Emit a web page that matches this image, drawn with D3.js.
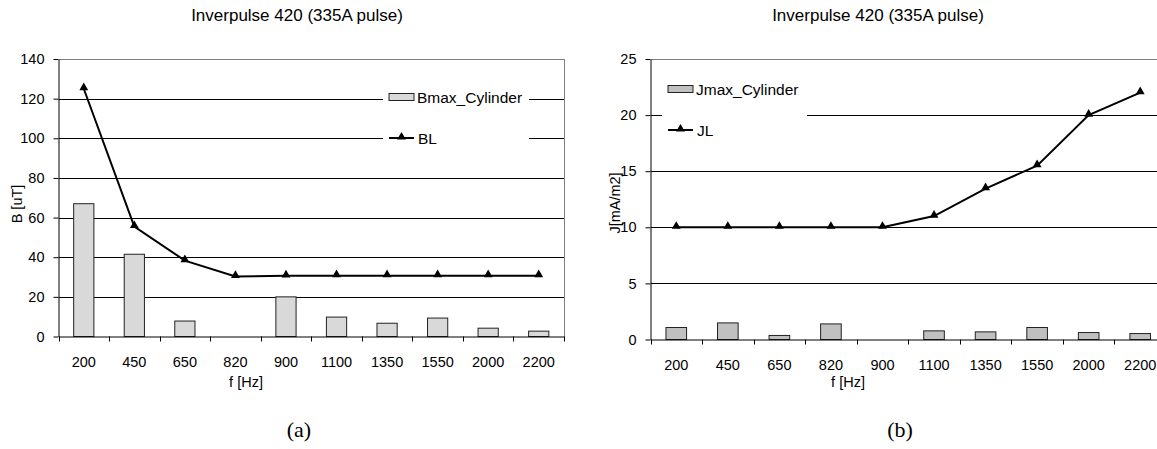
<!DOCTYPE html>
<html>
<head>
<meta charset="utf-8">
<script src="https://cdn.jsdelivr.net/npm/d3@7"></script>
<style>
  body { margin: 0; background: #fff; }
  svg { display: block; font-family: "Liberation Sans", Arial, sans-serif; }
  .tick text { font-size: 14.5px; fill: #000; }
  .grid-line { stroke: #000; stroke-width: 1; shape-rendering: crispEdges; }
  .frame { fill: none; stroke: #808080; stroke-width: 1; shape-rendering: crispEdges; }
  .series-line { fill: none; stroke: #000; stroke-width: 2; }
  .caption { font-family: "Liberation Serif", "Times New Roman", serif; font-size: 22px; }
</style>
</head>
<body>
<svg id="chart" width="1157" height="449"></svg>
<script>
// ---- data ----
const freqLabels = ["200", "450", "650", "820", "900", "1100", "1350", "1550", "2000", "2200"];

// chart (a)
const bmaxCylinder = [67, 41.5, 7.8, 0, 20, 9.8, 6.7, 9.3, 4.2, 2.7];
const bL = [125, 55.5, 38.3, 30.3, 30.6, 30.7, 30.7, 30.7, 30.7, 30.7];
const bTicks = [0, 20, 40, 60, 80, 100, 120, 140];

// chart (b)
const jmaxCylinder = [1.07, 1.48, 0.36, 1.39, 0, 0.77, 0.68, 1.07, 0.62, 0.53];
const jL = [10, 10, 10, 10, 10, 11, 13.45, 15.5, 20, 22];
const jTicks = [0, 5, 10, 15, 20, 25];

const svg = d3.select("#chart");

function drawPanel(cfg) {
    const g = svg.append("g");
    const x = d3.scaleBand().domain(freqLabels).range([cfg.left, cfg.right]);
    const y = d3.scaleLinear().domain([0, cfg.yMax]).range([cfg.bottom, cfg.top]);

    // Title
    g.append("text")
        .attr("x", cfg.titleX)
        .attr("y", 21)
        .attr("text-anchor", "middle")
        .attr("font-size", 17)
        .text("Inverpulse 420 (335A pulse)");

    // Grid lines
    cfg.ticks.filter(t => t > 0).forEach(t => {
        g.append("line")
            .attr("class", "grid-line")
            .attr("x1", cfg.left)
            .attr("x2", cfg.right)
            .attr("y1", Math.round(y(t)) + 0.5)
            .attr("y2", Math.round(y(t)) + 0.5);
    });

    // Plot frame (top + right)
    g.append("path")
        .attr("class", "frame")
        .attr("d", `M${cfg.left},${Math.round(y(cfg.yMax)) + 0.5}H${cfg.right}V${cfg.bottom}`);

    // Bars
    const barW = x.bandwidth() * 0.4;
    g.selectAll(".bar")
        .data(cfg.bars.map((v, i) => ({ v, f: freqLabels[i] })).filter(d => d.v > 0))
        .enter()
        .append("rect")
        .attr("x", d => x(d.f) + (x.bandwidth() - barW) / 2)
        .attr("y", d => y(d.v))
        .attr("width", barW)
        .attr("height", d => y(0) - y(d.v))
        .attr("fill", cfg.barColor)
        .attr("stroke", "#222")
        .attr("stroke-width", 1);

    // Line series
    const line = d3.line()
        .x((d, i) => x(freqLabels[i]) + x.bandwidth() / 2)
        .y(d => y(d));
    g.append("path")
        .datum(cfg.line)
        .attr("class", "series-line")
        .attr("d", line);

    const tri = d3.symbol().type(d3.symbolTriangle).size(34);
    g.selectAll(".marker")
        .data(cfg.line)
        .enter()
        .append("path")
        .attr("transform", (d, i) => `translate(${x(freqLabels[i]) + x.bandwidth() / 2},${y(d) - 1})`)
        .attr("d", tri)
        .attr("fill", "#000");

    // Legend (white box behind)
    const lg = g.append("g");
    lg.append("rect")
        .attr("x", cfg.legend.x)
        .attr("y", cfg.legend.y)
        .attr("width", cfg.legend.w)
        .attr("height", cfg.legend.h)
        .attr("fill", "#fff");
    const lx = cfg.legend.x + cfg.legend.pad;
    lg.append("rect")
        .attr("x", lx)
        .attr("y", cfg.legend.row1 - 3.5)
        .attr("width", 25)
        .attr("height", 7)
        .attr("fill", cfg.barColor)
        .attr("stroke", "#222");
    lg.append("text")
        .attr("x", lx + 28)
        .attr("y", cfg.legend.row1 + 5.5)
        .attr("font-size", 15.5)
        .text(cfg.barName);
    lg.append("line")
        .attr("x1", lx)
        .attr("x2", lx + 25)
        .attr("y1", cfg.legend.row2)
        .attr("y2", cfg.legend.row2)
        .attr("stroke", "#000")
        .attr("stroke-width", 2);
    lg.append("path")
        .attr("transform", `translate(${lx + 12.5},${cfg.legend.row2 - 1})`)
        .attr("d", tri)
        .attr("fill", "#000");
    lg.append("text")
        .attr("x", lx + 29)
        .attr("y", cfg.legend.row2 + 5.5)
        .attr("font-size", 15.5)
        .text(cfg.lineName);

    // Y axis
    const yAxis = g.append("g")
        .attr("transform", `translate(${cfg.left},0)`)
        .call(d3.axisLeft(y).tickValues(cfg.ticks).tickSize(5).tickPadding(9).tickSizeOuter(0));
    yAxis.select(".domain").attr("stroke", "#000");

    // X axis: ticks on category boundaries
    const xAxis = g.append("g")
        .attr("transform", `translate(0,${cfg.bottom})`)
        .call(d3.axisBottom(x).tickSize(0).tickPadding(20));
    xAxis.select(".domain").attr("stroke", "#000");
    const bounds = freqLabels.map(f => x(f)).concat([cfg.right]);
    g.selectAll(".xtick")
        .data(bounds)
        .enter()
        .append("line")
        .attr("x1", d => Math.round(d) + 0.5)
        .attr("x2", d => Math.round(d) + 0.5)
        .attr("y1", cfg.bottom)
        .attr("y2", cfg.bottom + 5)
        .attr("stroke", "#000");

    // Axis titles
    g.append("text")
        .attr("x", cfg.xTitleX)
        .attr("y", 387)
        .attr("text-anchor", "middle")
        .attr("font-size", 14.5)
        .text("f [Hz]");
    g.append("text")
        .attr("transform", `translate(${cfg.yTitleX},${cfg.yTitleY}) rotate(-90)`)
        .attr("text-anchor", "middle")
        .attr("font-size", 14.5)
        .text(cfg.yName);

    // Panel caption
    g.append("text")
        .attr("class", "caption")
        .attr("x", cfg.captionX)
        .attr("y", 437)
        .attr("text-anchor", "middle")
        .text(cfg.caption);
}

drawPanel({
    left: 58.5, right: 564, top: 59, bottom: 336.5,
    yMax: 140, ticks: bTicks,
    bars: bmaxCylinder, line: bL,
    barColor: "#d9d9d9", barName: "Bmax_Cylinder", lineName: "BL",
    titleX: 297, xTitleX: 246, yTitleX: 22, yTitleY: 204, yName: "B [uT]",
    captionX: 299, caption: "(a)",
    legend: { x: 383, y: 80, w: 146, h: 72, pad: 6, row1: 97, row2: 138 }
});

drawPanel({
    left: 650.5, right: 1166, top: 59, bottom: 339.5,
    yMax: 25, ticks: jTicks,
    bars: jmaxCylinder, line: jL,
    barColor: "#c0c0c0", barName: "Jmax_Cylinder", lineName: "JL",
    titleX: 878, xTitleX: 848, yTitleX: 620, yTitleY: 203, yName: "J[mA/m2]",
    captionX: 900, caption: "(b)",
    legend: { x: 662, y: 72, w: 145, h: 72, pad: 6, row1: 89, row2: 130 }
});
</script>
</body>
</html>
